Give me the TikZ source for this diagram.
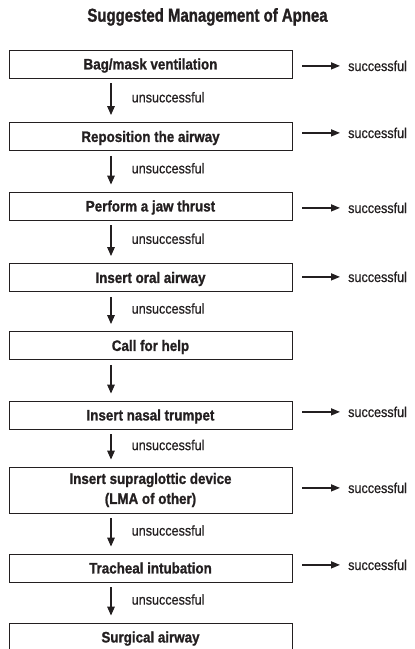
\documentclass[tikz,border=0pt]{standalone}
\usepackage{fontspec}
\setmainfont{Liberation Sans}
\newfontfamily\titlefont[FakeStretch=0.8,FakeBold=1.2]{Liberation Sans}
\newfontfamily\boxfont[FakeStretch=0.88,FakeBold=1]{Liberation Sans}
\newfontfamily\labfont[FakeStretch=0.88,FakeBold=0.6]{Liberation Sans}
\usetikzlibrary{arrows.meta}
\definecolor{ink}{HTML}{231F20}
\tikzset{
  stepbox/.style={draw=ink, line width=0.9pt, minimum width=283pt, minimum height=28pt,
    inner sep=0pt, text=ink, font=\boxfont\bfseries\fontsize{15.2}{20}\selectfont},
  oneline/.style={stepbox, text height=10.9pt, text depth=0pt},
  darrow/.style={draw=ink, line width=1.5pt, -{Triangle[length=9pt,width=7.5pt]},
    shorten <=5pt, shorten >=7pt},
  rarrow/.style={draw=ink, line width=1.5pt, -{Triangle[length=9pt,width=7pt]},
    shorten <=10pt, shorten >=8pt},
  unsucc/.style={midway, anchor=west, xshift=20pt, yshift=3pt, inner sep=0pt, text=ink,
    font=\labfont\fontsize{14.3}{16}\selectfont},
  succ/.style={anchor=base west, inner sep=0pt, text=ink,
    font=\labfont\fontsize{14.3}{16}\selectfont}
}
\begin{document}
\begin{tikzpicture}[x=1pt,y=-1pt]
\useasboundingbox (0,0) rectangle (415,649);
\clip (0,0) rectangle (415,649);
\fill[white] (0,0) rectangle (415,649);

\node[anchor=base, inner sep=0pt, text=ink, font=\titlefont\bfseries\fontsize{18.7}{22}\selectfont]
  (title) at (207.5,21.7) {Suggested Management of Apnea};

\node[oneline] (b1) at (150.5,64) {Bag/mask ventilation};
\node[oneline] (b2) at (150.5,136.5) {Reposition the airway};
\node[oneline] (b3) at (150.5,206) {Perform a jaw thrust};
\node[oneline] (b4) at (150.5,277.5) {Insert oral airway};
\node[oneline] (b5) at (150.5,345.5) {Call for help};
\node[oneline] (b6) at (150.5,415) {Insert nasal trumpet};
\node[stepbox, minimum height=46pt, align=center] (b7) at (150.5,490) {Insert supraglottic device\\(LMA of other)};
\node[oneline] (b8) at (150.5,568) {Tracheal intubation};
\node[oneline] (b9) at (150.5,637) {Surgical airway};

\coordinate (ax) at (111,0);
\draw[darrow] (b1.south -| ax) -- (b2.north -| ax) node[unsucc] {unsuccessful};
\draw[darrow] (b2.south -| ax) -- (b3.north -| ax) node[unsucc] {unsuccessful};
\draw[darrow] (b3.south -| ax) -- (b4.north -| ax) node[unsucc] {unsuccessful};
\draw[darrow] (b4.south -| ax) -- (b5.north -| ax) node[unsucc] {unsuccessful};
\draw[darrow] (b5.south -| ax) -- (b6.north -| ax);
\draw[darrow] (b6.south -| ax) -- (b7.north -| ax) node[unsucc] {unsuccessful};
\draw[darrow] (b7.south -| ax) -- (b8.north -| ax) node[unsucc] {unsuccessful};
\draw[darrow] (b8.south -| ax) -- (b9.north -| ax) node[unsucc] {unsuccessful};

\node[succ] (s1) at (348,71) {successful};
\node[succ] (s2) at (348,138) {successful};
\node[succ] (s3) at (348,213) {successful};
\node[succ] (s4) at (348,282) {successful};
\node[succ] (s6) at (348,417) {successful};
\node[succ] (s7) at (348,493) {successful};
\node[succ] (s8) at (348,570) {successful};

\draw[rarrow] (b1.east |- s1.west) -- (s1.west);
\draw[rarrow] (b2.east |- s2.west) -- (s2.west);
\draw[rarrow] (b3.east |- s3.west) -- (s3.west);
\draw[rarrow] (b4.east |- s4.west) -- (s4.west);
\draw[rarrow] (b6.east |- s6.west) -- (s6.west);
\draw[rarrow] (b7.east |- s7.west) -- (s7.west);
\draw[rarrow] (b8.east |- s8.west) -- (s8.west);
\end{tikzpicture}
\end{document}
